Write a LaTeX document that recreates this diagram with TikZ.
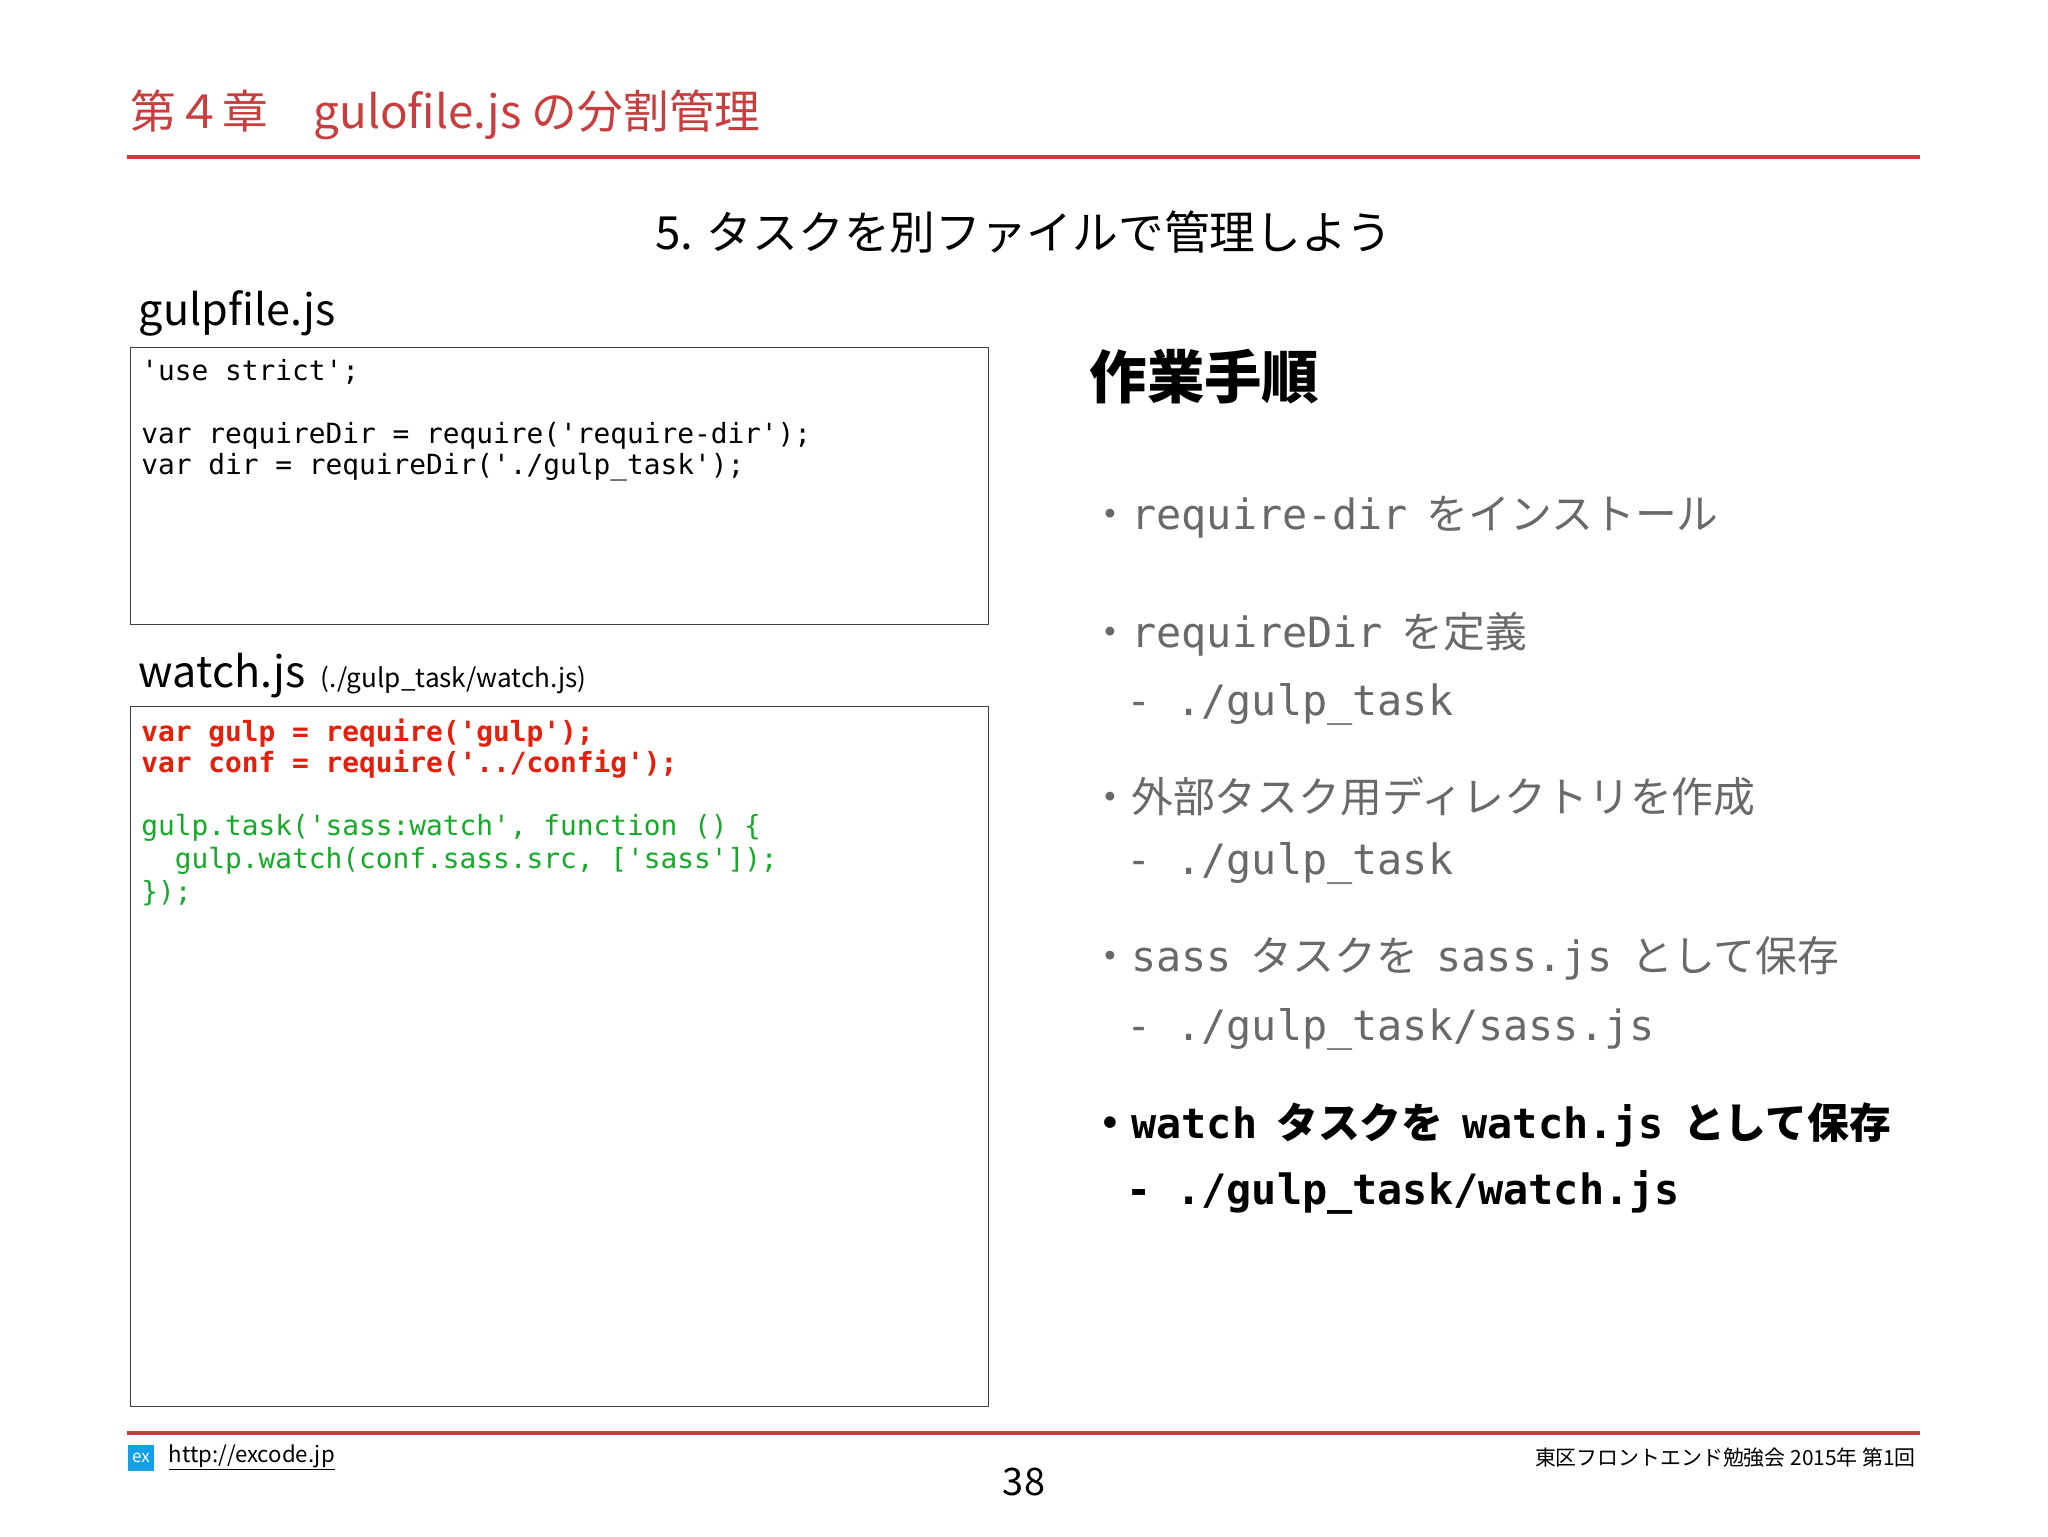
\documentclass[tikz,border=0pt]{standalone}
\usepackage{fontspec}
\setmainfont{Noto Sans CJK JP}
\setmonofont{DejaVu Sans Mono}
\definecolor{titlered}{RGB}{200,62,62}
\definecolor{codered}{RGB}{230,30,10}
\definecolor{codegreen}{RGB}{20,170,40}
\definecolor{bgray}{RGB}{105,105,105}
\definecolor{iconblue}{RGB}{20,160,230}
\begin{document}
\begin{tikzpicture}[x=1pt,y=-1pt,
  txt/.style={anchor=west,inner sep=0pt},
  code/.style={txt,font=\fontsize{21.3}{24}\ttfamily},
  bul/.style={txt,text=bgray,font=\fontsize{32}{36}\selectfont},
  box/.style={draw=black!75,line width=1pt}]
\useasboundingbox (0,0) rectangle (1568,1176);
\node[txt,text=titlered,font=\fontsize{35}{40}\selectfont] (title) at (100,88) {第４章\quad gulofile.js の分割管理};
\draw[titlered,line width=3pt] (97,120) -- (1470,120);
\node[inner sep=0pt,font=\fontsize{35}{40}\selectfont] (sub) at (784,178) {5. タスクを別ファイルで管理しよう};
\node[txt,font=\fontsize{33}{36}\selectfont] (g) at (106,240) {gulpfile.js};
\draw[box] (100,266) rectangle (757,478);
\node[code] (c1) at (108,285) {'use strict';};
\node[code] (c2) at (108,334) {var requireDir = require('require-dir');};
\node[code] (c3) at (108,358) {var dir = requireDir('./gulp\_task');};
\node[txt,font=\fontsize{33}{36}\selectfont] (w) at (106,517) {watch.js {\fontsize{20}{24}\selectfont\ (./gulp\_task/watch.js)}};
\draw[box] (100,541) rectangle (757,1077);
\node[code,text=codered,font=\fontsize{21.3}{24}\ttfamily\bfseries] (d1) at (108,561) {var gulp = require('gulp');};
\node[code,text=codered,font=\fontsize{21.3}{24}\ttfamily\bfseries] (d2) at (108,585) {var conf = require('../config');};
\node[code,text=codegreen] (d3) at (108,634) {gulp.task('sass:watch', function () \{};
\node[code,text=codegreen] (d4) at (108,659) {\ \ gulp.watch(conf.sass.src, ['sass']);};
\node[code,text=codegreen] (d5) at (108,684) {\});};
\node[txt,font=\fontsize{44}{50}\selectfont\bfseries] (h) at (834,288) {作業手順};
\node[bul] (b1) at (834,396) {・{\ttfamily require-dir}\ \ をインストール};
\node[bul] (b2) at (834,486) {・{\ttfamily requireDir}\ \ を定義};
\node[bul,font=\fontsize{32}{36}\ttfamily] (b2a) at (862,539) {- ./gulp\_task};
\node[bul] (b3) at (834,610) {・外部タスク用ディレクトリを作成};
\node[bul,font=\fontsize{32}{36}\ttfamily] (b3a) at (862,661) {- ./gulp\_task};
\node[bul] (b4) at (834,734) {・{\ttfamily sass}\ \ タスクを\ \ {\ttfamily sass.js}\ \ として保存};
\node[bul,font=\fontsize{32}{36}\ttfamily] (b4a) at (862,788) {- ./gulp\_task/sass.js};
\node[bul,text=black,font=\fontsize{32}{36}\selectfont\bfseries] (b5) at (834,861) {・{\ttfamily\bfseries watch}\ \ タスクを\ \ {\ttfamily\bfseries watch.js}\ \ として保存};
\node[bul,text=black,font=\fontsize{32}{36}\ttfamily\bfseries] (b5a) at (862,913) {- ./gulp\_task/watch.js};
\draw[titlered,line width=3pt] (97,1097) -- (1470,1097);
\node[fill=iconblue,minimum size=20pt,inner sep=0pt,text=white,font=\fontsize{13}{14}\itshape] (ic) at (108,1116) {ex};
\node[txt,font=\fontsize{17}{18}\selectfont] (url) at (129,1116) {\underline{http://excode.jp}};
\node[inner sep=0pt,font=\fontsize{29}{32}\selectfont] (pg) at (784,1135) {38};
\node[anchor=east,inner sep=0pt,font=\fontsize{16}{18}\selectfont] (ft) at (1467,1116) {東区フロントエンド勉強会 2015年 第1回};
\end{tikzpicture}
\end{document}
